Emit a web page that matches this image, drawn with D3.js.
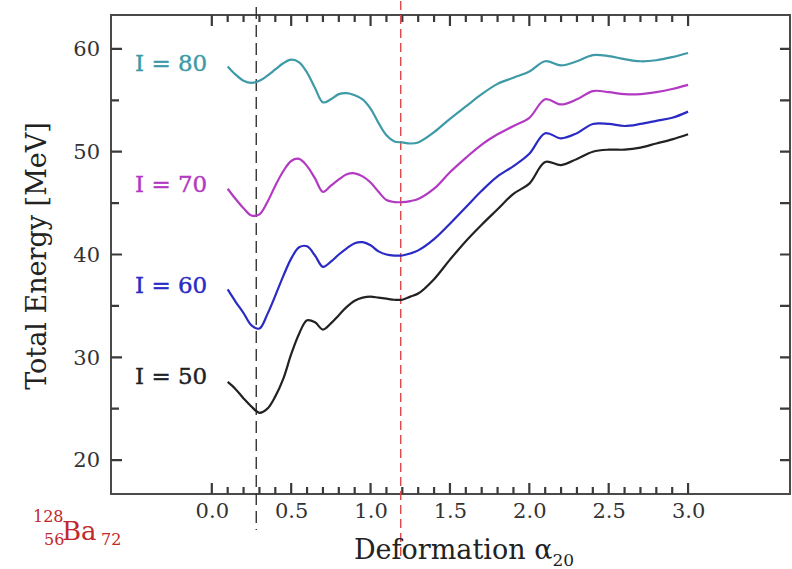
<!DOCTYPE html>
<meta charset="utf-8">
<style>
body { margin: 0; background: #fff; }
svg { font-family: "DejaVu Serif", serif; }
.tick text { font-family: "DejaVu Serif", serif; fill: #333; }
</style>
<svg width="792" height="569"></svg>
<script src="https://cdn.jsdelivr.net/npm/d3@7"></script>
<script>

// deformation grid (alpha_20) shared by all curves
var alpha = [0.10, 0.15, 0.20, 0.25, 0.30, 0.35, 0.40, 0.45, 0.50, 0.55, 0.60, 0.65,
             0.70, 0.75, 0.80, 0.85, 0.90, 0.95, 1.00, 1.05, 1.10, 1.15, 1.20, 1.25,
             1.30, 1.40, 1.50, 1.60, 1.70, 1.80, 1.90, 2.00, 2.10, 2.20, 2.30, 2.40,
             2.50, 2.60, 2.70, 2.80, 2.90, 3.00];

// total energy [MeV] per spin
var e80 = [58.3, 57.5, 56.9, 56.7, 56.9, 57.4, 58.0, 58.6, 58.95, 58.7, 57.7, 56.2,
           54.8, 55.1, 55.6, 55.7, 55.5, 55.1, 54.2, 52.8, 51.6, 51.0, 50.9, 50.8,
           50.9, 51.9, 53.2, 54.4, 55.6, 56.6, 57.2, 57.8, 58.8, 58.4, 58.8, 59.4,
           59.3, 59.0, 58.8, 58.9, 59.2, 59.6];
var e70 = [46.4, 45.4, 44.5, 43.8, 43.9, 45.1, 46.7, 48.1, 49.1, 49.3, 48.6, 47.4,
           46.1, 46.7, 47.3, 47.8, 47.9, 47.6, 47.0, 46.1, 45.3, 45.1, 45.1, 45.2,
           45.4, 46.4, 48.0, 49.4, 50.7, 51.7, 52.5, 53.3, 55.1, 54.6, 55.1, 55.9,
           55.8, 55.6, 55.6, 55.8, 56.1, 56.5];
var e60 = [36.6, 35.4, 34.3, 33.1, 32.8, 34.2, 36.0, 37.9, 39.6, 40.7, 40.8, 39.9,
           38.8, 39.3, 40.0, 40.6, 41.1, 41.2, 40.9, 40.3, 40.0, 39.9, 39.9, 40.1,
           40.4, 41.5, 43.0, 44.6, 46.2, 47.6, 48.6, 49.8, 51.8, 51.3, 51.8, 52.7,
           52.7, 52.5, 52.7, 53.0, 53.3, 53.9];
var e50 = [27.6, 26.9, 26.0, 25.2, 24.6, 25.0, 26.2, 27.9, 30.3, 32.3, 33.6, 33.4,
           32.7, 33.3, 34.1, 34.9, 35.5, 35.8, 35.9, 35.8, 35.7, 35.6, 35.6, 35.9,
           36.2, 37.6, 39.5, 41.3, 42.9, 44.4, 45.9, 46.9, 49.0, 48.7, 49.3, 50.0,
           50.2, 50.2, 50.4, 50.8, 51.2, 51.7];

var spins = ["I = 80", "I = 70", "I = 60", "I = 50"];
var colors = ["#3d9aa6", "#b23ac2", "#2a2ac4", "#222222"];
var labelY = [58.6, 46.9, 37.0, 28.2];   // energy where each label sits

var xMajor = [0, 0.5, 1, 1.5, 2, 2.5, 3];
var yMajor = [20, 30, 40, 50, 60];
var yMinor = [25, 35, 45, 55];
var markers = [0.28, 1.19];   // the two minima marked by dashed lines

var svg = d3.select("svg"),
    margin = {top: 15, right: 2, bottom: 75, left: 111},
    width = +svg.attr("width") - margin.left - margin.right,
    height = +svg.attr("height") - margin.top - margin.bottom,
    g = svg.append("g").attr("transform", "translate(" + margin.left + "," + margin.top + ")");

var x = d3.scaleLinear().domain([-0.635, 3.642]).range([0, width]);
var y = d3.scaleLinear().domain([16.7, 63.3]).range([height, 0]);

var xAll = d3.range(0, 31).map(function(i) { return i / 10; });
function isMajorX(v) { return Math.abs(v * 2 - Math.round(v * 2)) < 1e-6; }

// frame
g.append("rect")
    .attr("width", width)
    .attr("height", height)
    .attr("fill", "none")
    .attr("stroke", "#4a4a4a")
    .attr("stroke-width", 2);

// tick labels via the axis generators
g.append("g").attr("transform", "translate(0," + height + ")")
    .call(d3.axisBottom(x).tickValues(xMajor).tickSize(0).tickPadding(9)
      .tickFormat(d3.format(".1f")))
    .call(function(s) { s.select(".domain").remove(); s.selectAll("text").style("font-size", "21px"); });
g.append("g")
    .call(d3.axisLeft(y).tickValues(yMajor).tickSize(0).tickPadding(11))
    .call(function(s) { s.select(".domain").remove(); s.selectAll("text").style("font-size", "21px"); });

// tick marks, all pointing inward
var tickPath = d3.path();
xAll.forEach(function(v) {
  var len = isMajorX(v) ? 11 : 7;
  tickPath.moveTo(x(v), height); tickPath.lineTo(x(v), height - len);
  tickPath.moveTo(x(v), 0); tickPath.lineTo(x(v), len);
});
yMajor.concat(yMinor).forEach(function(v) {
  var len = yMajor.indexOf(v) >= 0 ? 11 : 8;
  tickPath.moveTo(0, y(v)); tickPath.lineTo(len, y(v));
  tickPath.moveTo(width, y(v)); tickPath.lineTo(width - 10, y(v));
});
g.append("path")
    .attr("d", tickPath.toString())
    .attr("fill", "none")
    .attr("stroke", "#3a3a3a")
    .attr("stroke-width", 2.2);

// dashed marker lines
g.append("line")
    .attr("x1", x(markers[0])).attr("x2", x(markers[0]))
    .attr("y1", -8).attr("y2", height + 36)
    .attr("stroke", "#333").attr("stroke-width", 1.4).attr("stroke-dasharray", "12,6");
g.append("line")
    .attr("x1", x(markers[1])).attr("x2", x(markers[1]))
    .attr("y1", -14).attr("y2", height + 62)
    .attr("stroke", "#e0474a").attr("stroke-width", 1.4).attr("stroke-dasharray", "9,5");

// energy curves
var line = d3.line()
    .x(function(d) { return x(d[0]); })
    .y(function(d) { return y(d[1]); })
    .curve(d3.curveCatmullRom.alpha(0.5));

[e80, e70, e60, e50].forEach(function(es, i) {
  g.append("path")
      .datum(alpha.map(function(a, j) { return [a, es[j]]; }))
      .attr("fill", "none")
      .attr("stroke", colors[i])
      .attr("stroke-width", 2.2)
      .attr("d", line);

  g.append("text")
      .attr("x", 24)
      .attr("y", y(labelY[i]))
      .attr("dy", "0.35em")
      .style("font-size", "23px")
      .style("fill", colors[i])
      .style("stroke", colors[i])
      .style("stroke-width", 0.4)
      .text(spins[i]);
});

// axis titles
svg.append("text")
    .attr("transform", "translate(46,256) rotate(-90)")
    .attr("text-anchor", "middle")
    .style("font-size", "27px")
    .style("fill", "#222")
    .text("Total Energy [MeV]");

var xt = svg.append("text")
    .attr("x", 464)
    .attr("y", 559)
    .attr("text-anchor", "middle")
    .style("font-size", "27px")
    .style("fill", "#222");
xt.append("tspan").text("Deformation α");
xt.append("tspan").attr("dy", 7).style("font-size", "17px").text("20");

// nucleus label
var ba = svg.append("text").style("fill", "#c0282c");
ba.append("tspan").attr("x", 33).attr("y", 522).style("font-size", "16px").text("128");
ba.append("tspan").attr("x", 44).attr("y", 545).style("font-size", "16px").text("56");
ba.append("tspan").attr("x", 62).attr("y", 540).style("font-size", "26px").text("Ba");
ba.append("tspan").attr("x", 101).attr("y", 545).style("font-size", "16px").text("72");

</script>
